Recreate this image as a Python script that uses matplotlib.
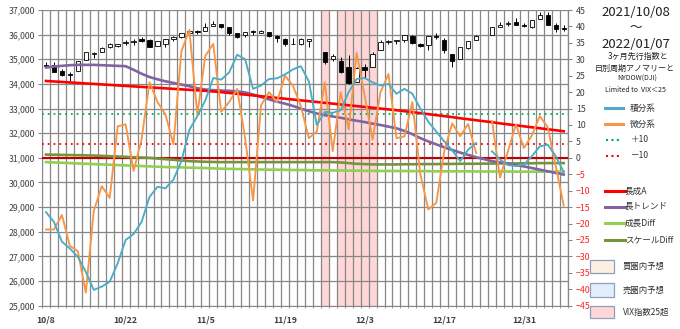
import numpy as np
import pandas as pd
import matplotlib
matplotlib.use("Agg")
import matplotlib.pyplot as plt
from matplotlib.lines import Line2D
from matplotlib.patches import Rectangle

plt.rcParams['font.family'] = ['Noto Sans CJK JP', 'DejaVu Sans']

# ---------------- data ----------------
dates = pd.bdate_range("2021-10-08", "2022-01-07")   # 66 weekday categories
tick_idx = [0, 10, 20, 30, 40, 50, 60]
tick_labels = ['10/8', '10/22', '11/5', '11/19', '12/3', '12/17', '12/31']
nan = np.nan

dow_open = [34786, 34751, 34537, 34378, 34520, 34990, 35214, 35296, 35490, 35559,
            35665, 35713, 35822, 35788, 35553, 35637, 35833, 35918, 36052, 36163,
            36167, 36351, 36430, 36300, 36080, 35970, 36140, 36080, 36100, 35960,
            35830, 35630, 35620, 35730, nan, 35300, 35030, 34940, 34680, 34080,
            34690, 34670, 35380, 35700, 35750, 35800, 35960, 35640, 35560, 35940,
            35800, 35200, 35000, 35450, 35780, nan, 35990, 36320, 36420, 36500,
            36400, 36320, 36640, 36800, 36400, 36250]
dow_high = [34893, 34882, 34589, 34476, 34931, 35313, 35305, 35496, 35670, 35630,
            35765, 35813, 35892, 35821, 35758, 35822, 35930, 36072, 36166, 36174,
            36466, 36565, 36440, 36300, 36086, 36100, 36200, 36200, 36120, 35990,
            35860, 35870, 35880, 35820, nan, 35300, 35230, 35100, 35160, 34680,
            34800, 35280, 35770, 35800, 35760, 35990, 35990, 35660, 35960, 36080,
            35850, 35200, 35500, 35760, 36000, nan, 36310, 36530, 36570, 36680,
            36480, 36600, 36930, 36900, 36480, 36380]
dow_low = [34709, 34492, 34328, 34111, 34520, 34990, 35040, 35296, 35457, 35483,
           35597, 35596, 35700, 35480, 35553, 35518, 35752, 35848, 35950, 36031,
           36167, 36351, 36270, 36000, 35880, 35900, 36000, 36055, 35900, 35710,
           35540, 35600, 35560, 35500, nan, 34800, 34950, 34440, 34000, 34080,
           34240, 34670, 35380, 35600, 35600, 35700, 35640, 35500, 35360, 35820,
           35250, 34700, 35000, 35420, 35780, nan, 35990, 36320, 36350, 36390,
           36330, 36250, 36640, 36400, 36120, 36150]
dow_close = [34746, 34496, 34378, 34377, 34912, 35295, 35258, 35457, 35609, 35603,
             35677, 35741, 35756, 35491, 35731, 35820, 35913, 36053, 36158, 36124,
             36328, 36432, 36320, 36080, 35921, 36100, 36087, 36143, 35931, 35871,
             35602, 35619, 35814, 35804, nan, 34899, 35136, 34484, 34022, 34640,
             34580, 35227, 35719, 35754, 35754, 35971, 35650, 35544, 35928, 35898,
             35365, 34932, 35493, 35754, 35951, nan, 36302, 36398, 36488, 36398,
             36338, 36585, 36800, 36408, 36236, 36231]

integral = [-16.5, -19.5, -25.5, -27.6, -30.1, -34.7, -40.2, -39.2, -37.7, -32.1,
            -25.0, -23.2, -19.5, -11.9, -8.8, -9.3, -6.6, -1.0, 8.5, 12.7,
            17.5, 24.3, 23.8, 26.0, 31.4, 30.0, 21.0, 22.0, 24.0, 24.2,
            25.4, 26.9, 27.9, 23.3, 10.0, 14.0, 13.7, 14.5, 20.0, 24.0,
            24.3, 23.0, 22.0, 22.5, 19.5, 21.0, 19.5, 15.0, 11.0, 8.0,
            5.0, 2.3, -1.0, 2.5, 4.5, nan, 2.0, -0.5, -2.2, -2.5,
            -2.0, 0.5, 3.5, 4.0, 0.5, -4.3]
differential = [-21.8, -21.8, -17.4, -26.8, -28.4, -41.0, -16.2, -8.6, -12.2, 9.6,
                10.2, -4.0, 5.6, 23.0, 17.0, 13.2, 4.1, 32.4, 39.0, 13.2,
                31.0, 34.7, 14.0, 17.0, 21.0, 6.0, -13.0, 16.0, 20.0, 17.0,
                25.0, 22.0, 15.7, 6.0, 8.0, 23.0, 2.0, 20.0, 8.6, 32.0,
                19.0, 5.6, 20.0, 25.5, 6.0, 6.5, 17.0, -5.0, -15.7, -13.7,
                2.0, 10.5, 6.6, 10.3, 1.5, nan, 11.2, -6.0, 2.0, 10.2,
                3.0, 6.8, 12.7, 9.3, -2.5, -14.5]
long_growth_a = [23.4, 23.25, 23.1, 22.95, 22.8, 22.65, 22.5, 22.35, 22.2, 22.05,
                 21.9, 21.75, 21.6, 21.45, 21.3, 21.15, 21.0, 20.85, 20.7, 20.55,
                 20.4, 20.2, 20.0, 19.75, 19.5, 19.25, 19.0, 18.75, 18.5, 18.25,
                 18.0, 17.75, 17.5, 17.25, 17.0, 16.75, 16.5, 16.25, 16.0, 15.75,
                 15.5, 15.25, 15.0, 14.75, 14.5, 14.2, 13.9, 13.6, 13.3, 13.0,
                 12.7, 12.4, 12.05, 11.75, 11.45, 11.15, 10.85, 10.5, 10.2, 9.9,
                 9.6, 9.3, 9.0, 8.7, 8.4, 8.1]
long_trend = [27.5, 27.8, 28.0, 28.2, 28.3, 28.3, 28.3, 28.2, 28.1, 28.0,
              27.9, 26.8, 25.6, 24.6, 23.9, 23.3, 22.8, 22.3, 21.8, 21.2,
              20.8, 20.6, 20.5, 20.4, 20.2, 19.9, 19.3, 18.5, 17.8, 17.1,
              16.5, 15.8, 15.0, 14.2, 13.5, 13.0, 12.6, 12.2, 11.7, 11.3,
              10.9, 10.4, 10.0, 9.5, 9.0, 8.2, 7.2, 6.0, 5.0, 4.1,
              3.2, 2.4, 1.6, 0.9, 0.2, -0.4, -1.0, -1.4, -1.8, -2.2,
              -2.6, -3.1, -3.6, -4.1, -4.6, -5.1]
growth_diff = [-1.3, -1.4, -1.5, -1.6, -1.7, -1.8, -1.9, -2.0, -2.1, -2.2,
               -2.3, -2.4, -2.5, -2.6, -2.7, -2.8, -2.85, -2.9, -3.0, -3.05,
               -3.1, -3.2, -3.3, -3.35, -3.4, -3.45, -3.5, -3.55, -3.6, -3.6,
               -3.65, -3.7, -3.7, -3.75, -3.8, -3.8, -3.85, -3.85, -3.9, -3.9,
               -3.95, -3.95, -4.0, -4.0, -4.0, -4.0, -4.05, -4.05, -4.05, -4.1,
               -4.1, -4.1, -4.1, -4.1, -4.15, -4.15, -4.15, -4.15, -4.15, -4.2,
               -4.2, -4.2, -4.2, -4.2, -4.2, -4.2]
scale_diff = [1.0, 0.95, 0.9, 0.85, 0.8, 0.75, 0.7, 0.6, 0.5, 0.4,
              0.3, 0.2, 0.1, 0.0, -0.2, -0.4, -0.6, -0.8, -1.0, -1.1,
              -1.2, -1.25, -1.3, -1.3, -1.3, -1.3, -1.3, -1.3, -1.3, -1.3,
              -1.3, -1.3, -1.3, -1.3, -1.3, -1.3, -1.3, -1.4, -1.6, -1.8,
              -1.9, -2.0, -2.0, -2.0, -2.0, -1.95, -1.95, -1.9, -1.9, -1.9,
              -1.85, -1.85, -1.8, -1.8, -1.8, -1.75, -1.75, -1.7, -1.7, -1.7,
              -1.65, -1.65, -1.6, -1.6, -1.6, -1.6]
plus_level = 13.2
minus_level = 4.1
zero_level = 0
vix_days = [35, 37, 38, 39, 40, 41]

# ---------------- figure ----------------
W, H = 680, 329
fig = plt.figure(figsize=(W / 100, H / 100), dpi=100)
L, R, T, B = 42, 567.7, 10, 305.7
ax = fig.add_axes([L / W, 1 - B / H, (R - L) / W, (B - T) / H])
n = len(dates)
x = np.arange(n)
ax.set_xlim(-0.5, n - 0.5)
ax.set_ylim(25000, 37000)

gridc = '#878787'
ax.set_axisbelow(True)
ax.set_yticks(np.arange(25000, 37001, 1000))
ax.set_yticklabels([f"{v:,}" for v in range(25000, 37001, 1000)])
ax.yaxis.grid(True, color=gridc, lw=0.9)
ax.set_xticks(np.arange(-0.5, n, 1), minor=True)
ax.xaxis.grid(True, which='minor', color=gridc, lw=0.9)
ax.set_xticks(tick_idx)
ax.set_xticklabels(tick_labels)
ax.tick_params(axis='x', which='major', length=0, pad=7, labelsize=6.3, labelcolor='#404040')
ax.tick_params(axis='x', which='minor', length=3, direction='inout', color=gridc)
ax.tick_params(axis='y', length=3, color=gridc, labelsize=6.3, labelcolor='#404040', pad=2)
for lab in ax.get_xticklabels():
    lab.set_fontweight('bold')
ax.spines['top'].set_visible(False)
for s in ['left', 'bottom', 'right']:
    ax.spines[s].set_color(gridc)

for d in vix_days:
    ax.axvspan(d - 0.5, d + 0.5, color='#ffd7d7', zorder=0.2, lw=0)

# candlesticks
for i in range(n):
    o, h, l, c = dow_open[i], dow_high[i], dow_low[i], dow_close[i]
    if np.isnan(o):
        continue
    ax.vlines(i, l, h, color='black', lw=0.7, zorder=3)
    body = max(abs(c - o), 18)
    ax.bar(i, body, bottom=min(o, c), width=0.55,
           color='black' if c < o else 'white', edgecolor='black', lw=0.6, zorder=4)

# lines on right axis
ax2 = ax.twinx()
ax2.set_ylim(-45, 45)
ax2.set_yticks(np.arange(-45, 46, 5))
ax2.tick_params(axis='y', length=3, color=gridc, labelsize=6.3, pad=3)
for t, v in zip(ax2.get_yticklabels(), np.arange(-45, 46, 5)):
    t.set_color('#ff2020' if v < 0 else '#404040')
for s in ['top', 'left', 'bottom']:
    ax2.spines[s].set_visible(False)
ax2.spines['right'].set_color(gridc)

c_int, c_dif = '#4bacc6', '#f79646'
c_red, c_pur, c_lg, c_ol = '#ff0000', '#8064a2', '#92d050', '#77933c'
ax2.axhline(plus_level, color='#00b050', lw=1.3, ls=(0, (1, 2.2)), zorder=2)
ax2.axhline(minus_level, color='#ff0000', lw=1.3, ls=(0, (1, 2.2)), zorder=2)
ax2.axhline(zero_level, color='#c00000', lw=1.5, zorder=2)
ax2.plot(x, growth_diff, color=c_lg, lw=1.9, zorder=3)
ax2.plot(x, scale_diff, color=c_ol, lw=1.9, zorder=3)
ax2.plot(x, long_trend, color=c_pur, lw=1.9, zorder=3)
ax2.plot(x, long_growth_a, color=c_red, lw=1.9, zorder=3)
ax2.plot(x, differential, color=c_dif, lw=1.35, zorder=4)
ax2.plot(x, integral, color=c_int, lw=1.35, zorder=5)

# ---------------- right-hand texts & legend ----------------
def fx(px):
    return px / W

def fy(py):
    return 1 - py / H

tc = '#202020'
fig.text(fx(636), fy(12), "2021/10/08", ha='center', va='center', fontsize=9.5, color=tc)
fig.text(fx(636), fy(28), "～", ha='center', va='center', fontsize=9, color=tc)
fig.text(fx(636), fy(44), "2022/01/07", ha='center', va='center', fontsize=9.5, color=tc)
fig.text(fx(638), fy(56), "3ヶ月先行指数と", ha='center', va='center', fontsize=5.8, color=tc)
fig.text(fx(635), fy(68), "日別周期アノマリーと", ha='center', va='center', fontsize=5.8, color=tc)
fig.text(fx(637), fy(79), "NYDOW(DJI)", ha='center', va='center', fontsize=5.0, color=tc)
fig.text(fx(635), fy(89.5), "Limited to  VIX＜25", ha='center', va='center', fontsize=5.0, color=tc)

leg_lines = [
    ("積分系", 108, c_int, '-', 2.2, 605, 623, 630),
    ("微分系", 124, c_dif, '-', 2.2, 605, 623, 630),
    ("＋10", 140, '#00b050', (0, (1, 1.6)), 1.5, 606, 622, 631),
    ("－10", 156, '#ff0000', (0, (1, 1.6)), 1.5, 606, 622, 631),
    ("長成A", 191, c_red, '-', 2.2, 605, 625, 625),
    ("長トレンド", 207, c_pur, '-', 2.2, 605, 625, 625),
    ("成長Diff", 223, c_lg, '-', 2.2, 605, 625, 625),
    ("スケールDiff", 240, c_ol, '-', 2.2, 605, 625, 625),
]
for lab, py, col, ls, lw, x0, x1, xt in leg_lines:
    fig.add_artist(Line2D([fx(x0), fx(x1)], [fy(py), fy(py)], color=col, ls=ls, lw=lw))
    fig.text(fx(xt), fy(py), lab, ha='left', va='center', fontsize=6.2, color='#303030')

boxes = [("買圏内予想", 260, 273, '#fdf0e2'),
         ("売圏内予想", 283, 297, '#e2effb'),
         ("VIX指数25超", 306, 318, '#ffd7d7')]
for lab, y0, y1, col in boxes:
    fig.add_artist(Rectangle((fx(590), fy(y1)), fx(614) - fx(590), fy(y0) - fy(y1),
                             facecolor=col, edgecolor='#8aa2bf', lw=0.9))
    fig.text(fx(623), fy((y0 + y1) / 2), lab, ha='left', va='center', fontsize=6.0, color='#303030')

fig.savefig("out.png", dpi=100)
